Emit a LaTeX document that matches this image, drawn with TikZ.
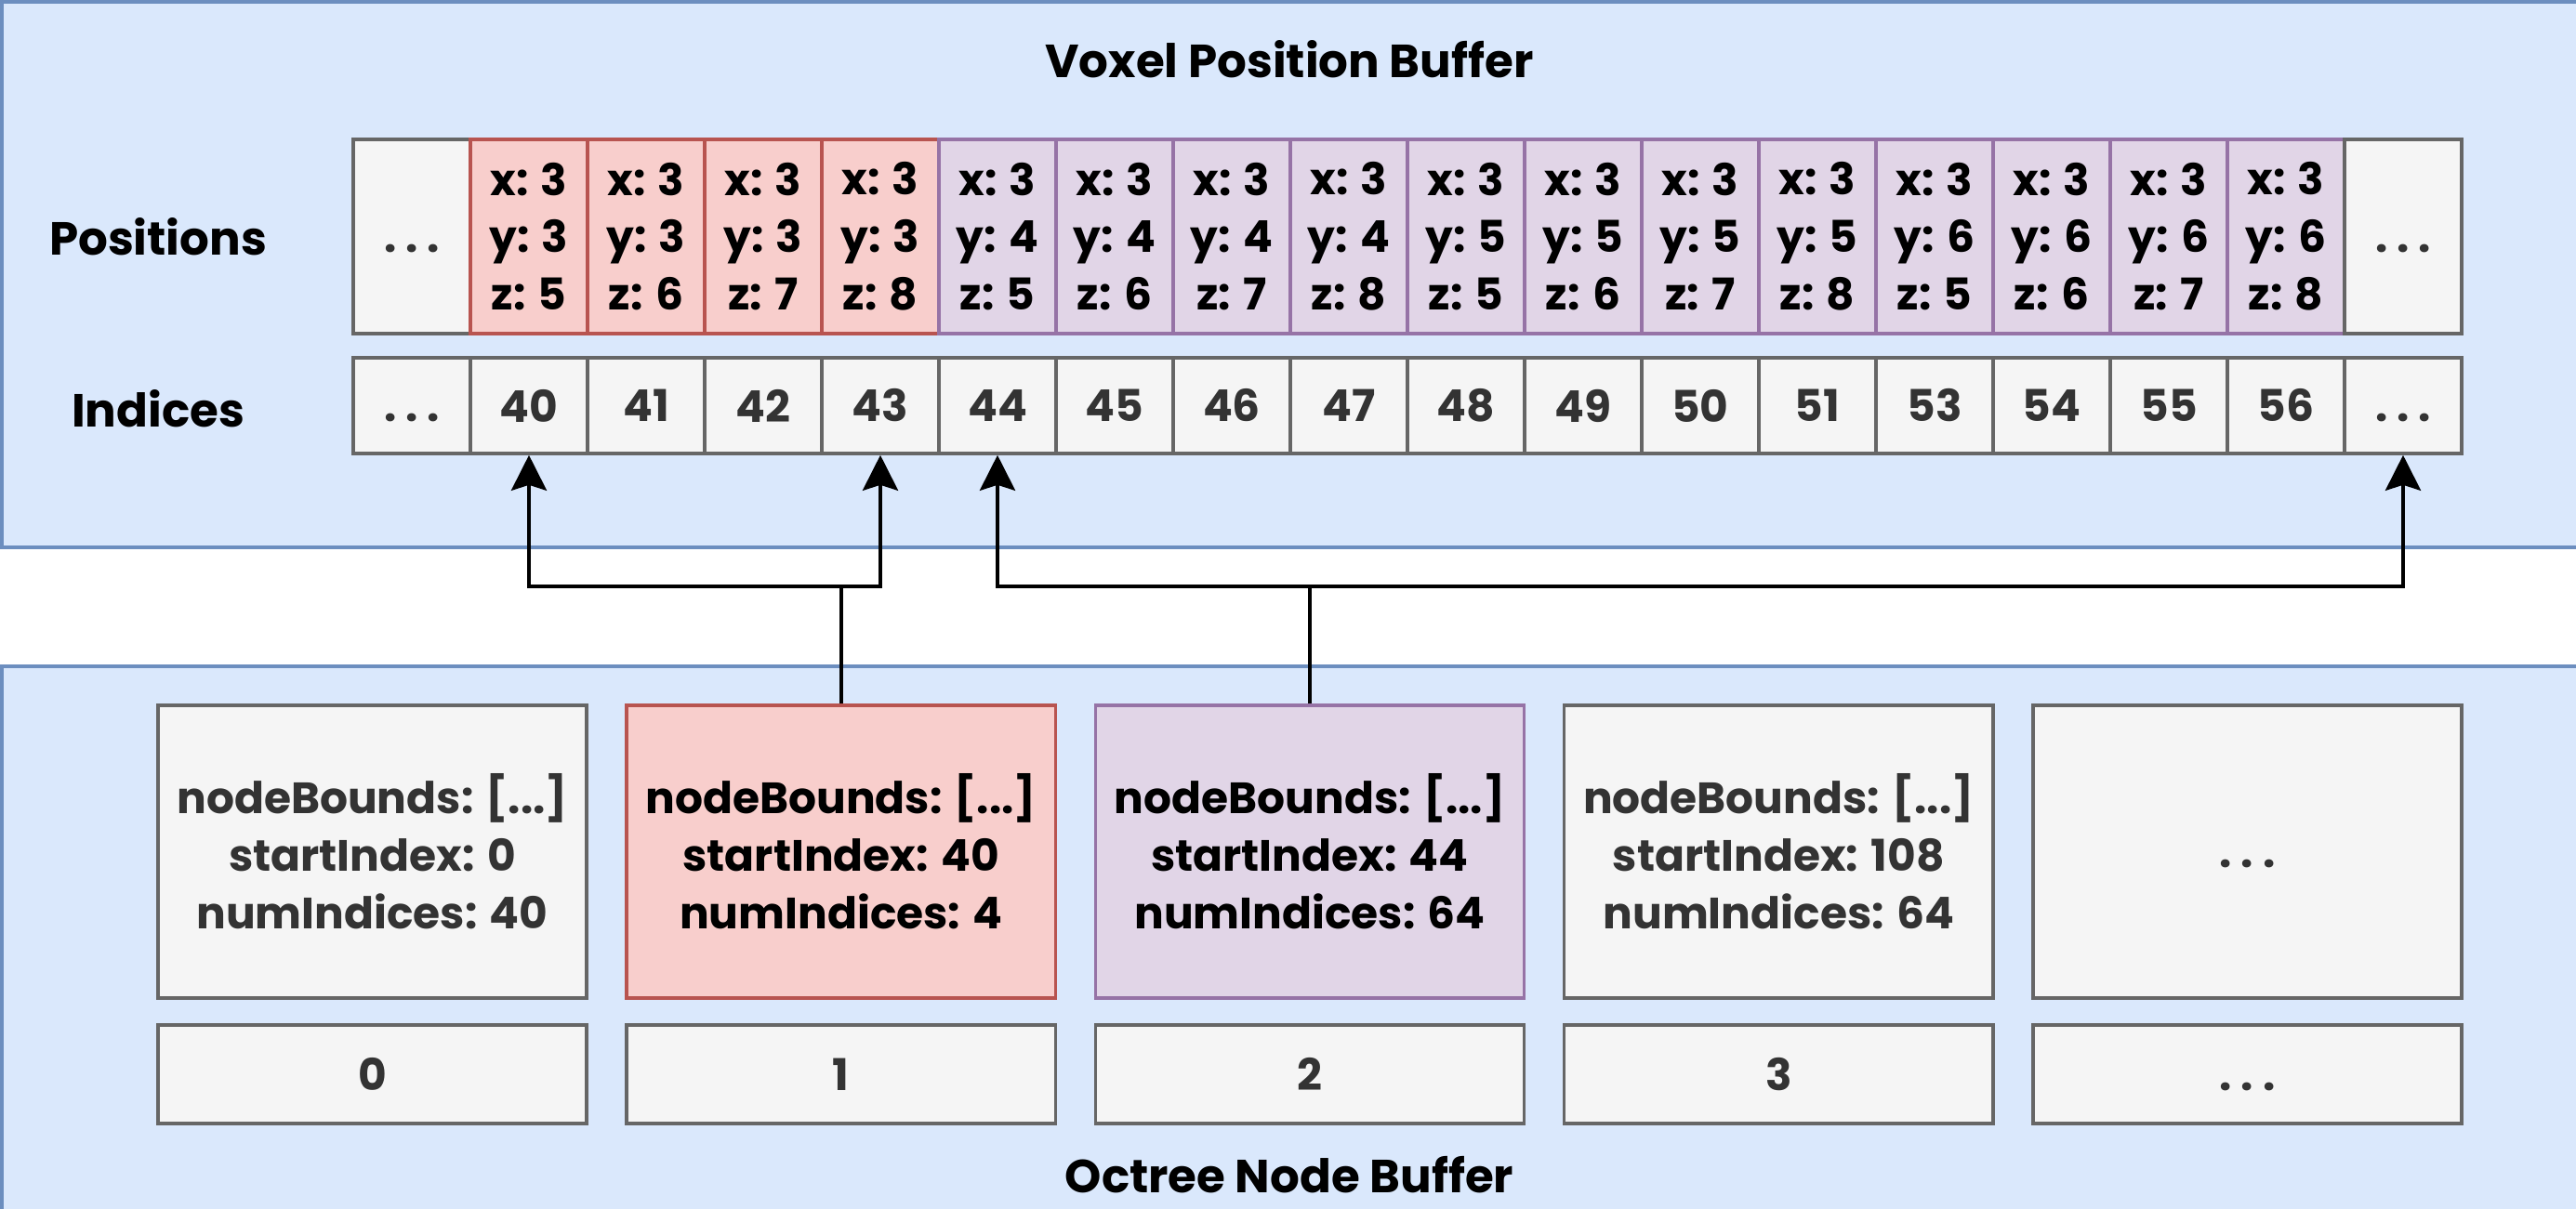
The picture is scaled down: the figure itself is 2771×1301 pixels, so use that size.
\documentclass[tikz,border=0pt]{standalone}
\usepackage{fontspec}
\setmainfont{Poppins}
\usetikzlibrary{arrows.meta,positioning}
\definecolor{bufferfill}{HTML}{DAE8FC}
\definecolor{bufferdraw}{HTML}{6C8EBF}
\definecolor{greyfill}{HTML}{F5F5F5}
\definecolor{greydraw}{HTML}{666666}
\definecolor{greytext}{HTML}{333333}
\definecolor{redfill}{HTML}{F8CECC}
\definecolor{reddraw}{HTML}{B85450}
\definecolor{purplefill}{HTML}{E1D5E7}
\definecolor{purpledraw}{HTML}{9673A6}
\newcommand{\gap}{\vphantom{0}.~.~.}

\begin{document}
\begin{tikzpicture}[
    x=0.01cm, y=-0.01cm,
    buffer/.style={draw=bufferdraw, fill=bufferfill, line width=1pt},
    title/.style={font=\fontsize{14.2}{17}\selectfont\bfseries},
    cell/.style={draw=greydraw, fill=greyfill, text=greytext, line width=1pt,
                 inner sep=0pt, align=center,
                 font=\fontsize{13.4}{17.6}\selectfont\bfseries},
    tone/.style={draw=#1draw, fill=#1fill, text=black},
    poscell/.style={cell, minimum width=1.26cm, minimum height=2.09cm},
    idxcell/.style={cell, minimum width=1.26cm, minimum height=1.03cm},
    octbox/.style={cell, minimum width=4.61cm, minimum height=3.15cm},
    slotbox/.style={cell, minimum width=4.61cm, minimum height=1.06cm},
    arr/.style={-{Stealth[length=0.38cm, width=0.38cm, inset=0.06cm]}, line width=1.2pt}
]
\useasboundingbox (0,0) rectangle (2771,1301);

% buffers
\draw[buffer] (2,2) rectangle (2800,589);
\draw[buffer] (2,717) rectangle (2800,1320);
\node[title] (voxeltitle) at (1387,64) {Voxel Position Buffer};
\node[title] (octreetitle) at (1387,1264) {Octree Node Buffer};
\node[title] (poslabel) at (170,255) {Positions};
\node[title] (idxlabel) at (170,440) {Indices};

% voxel positions
\node[poscell] (pos0) at (443,254.5) {\gap};
\foreach \yv [count=\i] in {3,3,3,3,4,4,4,4,5,5,5,5,6,6,6,6} {
    \pgfmathtruncatemacro\zv{mod(\i-1,4)+5}
    \ifnum\i<5 \def\shade{red}\else\def\shade{purple}\fi
    \node[poscell, tone=\shade] (pos\i) at ({443+126*\i},254.5) {x: 3\\y: \yv\\z: \zv};
}
\node[poscell] (pos17) at ({443+126*17},254.5) {\gap};

% indices
\node[idxcell] (idx0) at (443,436.5) {\gap};
\foreach \n [count=\i] in {40,41,42,43,44,45,46,47,48,49,50,51,53,54,55,56}
    \node[idxcell] (idx\i) at ({443+126*\i},436.5) {\n};
\node[idxcell] (idx17) at ({443+126*17},436.5) {\gap};

% octree nodes
\node[octbox] (oct0) at (400.5,916.5) {nodeBounds: [...]\\startIndex: 0\\numIndices: 40};
\node[octbox, tone=red] (oct1) at (904.75,916.5) {nodeBounds: [...]\\startIndex: 40\\numIndices: 4};
\node[octbox, tone=purple] (oct2) at (1409,916.5) {nodeBounds: [...]\\startIndex: 44\\numIndices: 64};
\node[octbox] (oct3) at (1913.25,916.5) {nodeBounds: [...]\\startIndex: 108\\numIndices: 64};
\node[octbox] (oct4) at (2417.5,916.5) {\gap};
\foreach \s [count=\i from 0] in {0,1,2,3,\gap}
    \node[slotbox] (slot\i) at ({400.5+504.25*\i},1156) {\s};

% links
\coordinate (bus) at (0,631);
\draw[arr] (oct1.north) -- (oct1.north |- bus) -| (idx1.south);
\draw[arr] (oct1.north |- bus) -| (idx4.south);
\draw[arr] (oct2.north) -- (oct2.north |- bus) -| (idx5.south);
\draw[arr] (oct2.north |- bus) -| (idx17.south);
\end{tikzpicture}
\end{document}
